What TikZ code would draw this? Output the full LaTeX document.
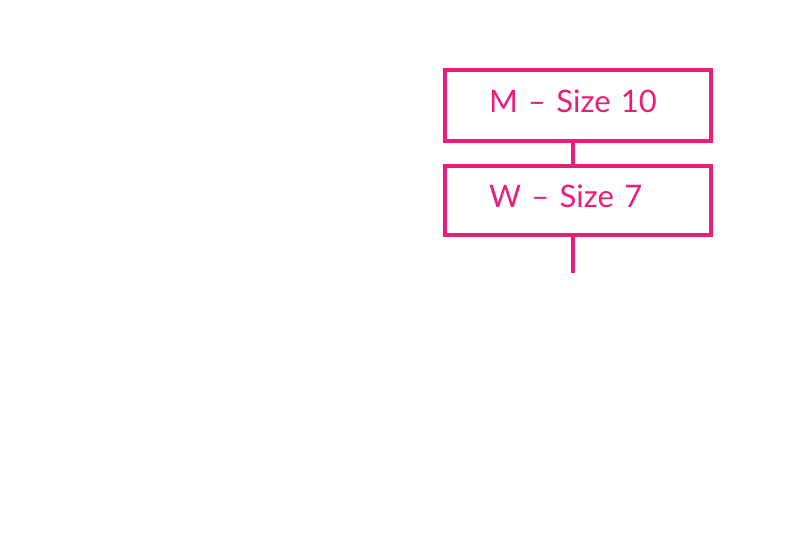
\documentclass[tikz,border=0pt]{standalone}
\usepackage{fontspec}
\setmainfont{Lato}
\usepackage{tikz}
\usepackage{xcolor}
\usetikzlibrary{positioning}
\definecolor{sizepink}{RGB}{233,30,123}

\tikzset{
  sizebox/.style={draw=sizepink, line width=4pt, rectangle, minimum height=71pt,
    text width=262pt, inner xsep=2pt, align=left, text=sizepink, text depth=8pt,
    font=\fontsize{31}{34}\selectfont, execute at begin node={\hspace*{42pt}}},
  sizeline/.style={draw=sizepink, line width=4pt}
}

\begin{document}
\begin{tikzpicture}[x=1pt,y=-1pt]
\useasboundingbox (0,0) rectangle (800,533);

\node [sizebox] (men) at (578,105.5) {M -- Size 10};
\node [sizebox, minimum height=69pt, below=21pt of men] (women) {W -- Size 7};

\coordinate (tail) at (573,273);

\draw [sizeline] (men.south -| tail) -- (women.north -| tail);
\draw [sizeline] (women.south -| tail) -- (tail);

\end{tikzpicture}
\end{document}
